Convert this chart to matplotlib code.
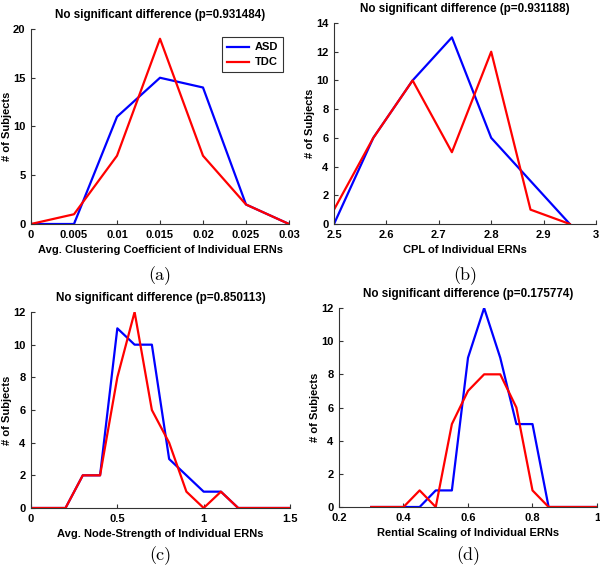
import matplotlib
matplotlib.use("Agg")
import matplotlib.pyplot as plt

# (a) Avg. clustering coefficient
a_x = [0, 0.005, 0.01, 0.015, 0.02, 0.025, 0.03]
a_asd = [0, 0, 11, 15, 14, 2, 0]
a_tdc = [0, 1, 7, 19, 7, 2, 0]
a_xticks = [0, 0.005, 0.01, 0.015, 0.02, 0.025, 0.03]
a_xlabels = ["0", "0.005", "0.01", "0.015", "0.02", "0.025", "0.03"]
a_yticks = [0, 5, 10, 15, 20]

# (b) CPL
b_x = [2.5, 2.575, 2.65, 2.725, 2.8, 2.875, 2.95]
b_asd = [0, 6, 10, 13, 6, 3, 0]
b_tdc = [1, 6, 10, 5, 12, 1, 0]
b_xticks = [2.5, 2.6, 2.7, 2.8, 2.9, 3.0]
b_xlabels = ["2.5", "2.6", "2.7", "2.8", "2.9", "3"]
b_yticks = [0, 2, 4, 6, 8, 10, 12, 14]

# (c) Avg. node-strength
c_x = [0, 0.1, 0.2, 0.3, 0.4, 0.5, 0.6, 0.7, 0.8, 0.9, 1.0, 1.1, 1.2, 1.3, 1.4, 1.5]
c_asd = [0, 0, 0, 2, 2, 11, 10, 10, 3, 2, 1, 1, 0, 0, 0, 0]
c_tdc = [0, 0, 0, 2, 2, 8, 12, 6, 4, 1, 0, 1, 0, 0, 0, 0]
c_xticks = [0, 0.5, 1, 1.5]
c_xlabels = ["0", "0.5", "1", "1.5"]
c_yticks = [0, 2, 4, 6, 8, 10, 12]

# (d) Rential scaling
d_x = [0.3, 0.35, 0.4, 0.45, 0.5, 0.55, 0.6, 0.65, 0.7, 0.75, 0.8, 0.85, 0.9, 0.95, 1.0]
d_asd = [0, 0, 0, 0, 1, 1, 9, 12, 9, 5, 5, 0, 0, 0, 0]
d_tdc = [0, 0, 0, 1, 0, 5, 7, 8, 8, 6, 1, 0, 0, 0, 0]
d_xticks = [0.2, 0.4, 0.6, 0.8, 1.0]
d_xlabels = ["0.2", "0.4", "0.6", "0.8", "1"]
d_yticks = [0, 2, 4, 6, 8, 10, 12]

titles = ["No significant difference (p=0.931484)",
          "No significant difference (p=0.931188)",
          "No significant difference (p=0.850113)",
          "No significant difference (p=0.175774)"]
xlabels = ["Avg. Clustering Coefficient of Individual ERNs",
           "CPL of Individual ERNs",
           "Avg. Node-Strength of Individual ERNs",
           "Rential Scaling of Individual ERNs"]
captions = ["(a)", "(b)", "(c)", "(d)"]

W, H = 600, 566
fig = plt.figure(figsize=(W / 100, H / 100), dpi=100)

# axes boxes in pixels: left, top, right, bottom
boxes = [(31, 29, 289, 224), (334, 23, 596, 224),
         (31, 312, 290, 508), (339, 308, 597, 507)]
caption_y = [276, 276, 556, 556]

data = [
    (a_x, a_asd, a_tdc, a_xticks, a_xlabels, a_yticks, (0, 0.03), (0, 20)),
    (b_x, b_asd, b_tdc, b_xticks, b_xlabels, b_yticks, (2.5, 3.0), (0, 14)),
    (c_x, c_asd, c_tdc, c_xticks, c_xlabels, c_yticks, (0, 1.5), (0, 12)),
    (d_x, d_asd, d_tdc, d_xticks, d_xlabels, d_yticks, (0.2, 1.0), (0, 12)),
]

font = "Liberation Sans"
for i, (box, d) in enumerate(zip(boxes, data)):
    l, t, r, b = box
    ax = fig.add_axes([l / W, 1 - b / H, (r - l) / W, (b - t) / H])
    x, asd, tdc, xt, xl, yt, xlim, ylim = d
    ax.plot(x, asd, color="#0000ff", lw=1.6, label="ASD")
    ax.plot(x, tdc, color="#ff0000", lw=1.6, label="TDC")
    ax.set_xlim(*xlim)
    ax.set_ylim(*ylim)
    ax.set_xticks(xt)
    ax.set_xticklabels(xl, fontsize=8, fontweight="bold", family=font)
    ax.set_yticks(yt)
    ax.set_yticklabels([str(v) for v in yt], fontsize=8, fontweight="bold", family=font)
    ax.tick_params(direction="in", length=3, width=0.8, color="#333333")
    ax.tick_params(axis="x", pad=4)
    ax.tick_params(axis="y", pad=4)
    for s in ["top", "right"]:
        ax.spines[s].set_visible(False)
    for s in ["left", "bottom"]:
        ax.spines[s].set_linewidth(0.8)
        ax.spines[s].set_color("#333333")
    ax.set_title(titles[i], fontsize=8.4, fontweight="bold", family=font, pad=8)
    ax.set_xlabel(xlabels[i], fontsize=8, fontweight="bold", family=font, labelpad=4)
    ax.set_ylabel("# of Subjects", fontsize=8, fontweight="bold", family=font, labelpad=1)
    if i == 0:
        leg = ax.legend(loc="upper right", prop={"family": font, "weight": "bold", "size": 8},
                        frameon=True, fancybox=False, edgecolor="black", handlelength=2.0,
                        borderpad=0.45, labelspacing=0.45, handletextpad=0.5,
                        bbox_to_anchor=(1.0, 0.985))
        leg.get_frame().set_linewidth(0.8)
    cx = (l + r) / 2 / W
    fig.text(cx, 1 - caption_y[i] / H, captions[i], ha="center", va="center",
             fontsize=13, family="cmr10")

fig.savefig("out.png", dpi=100)
